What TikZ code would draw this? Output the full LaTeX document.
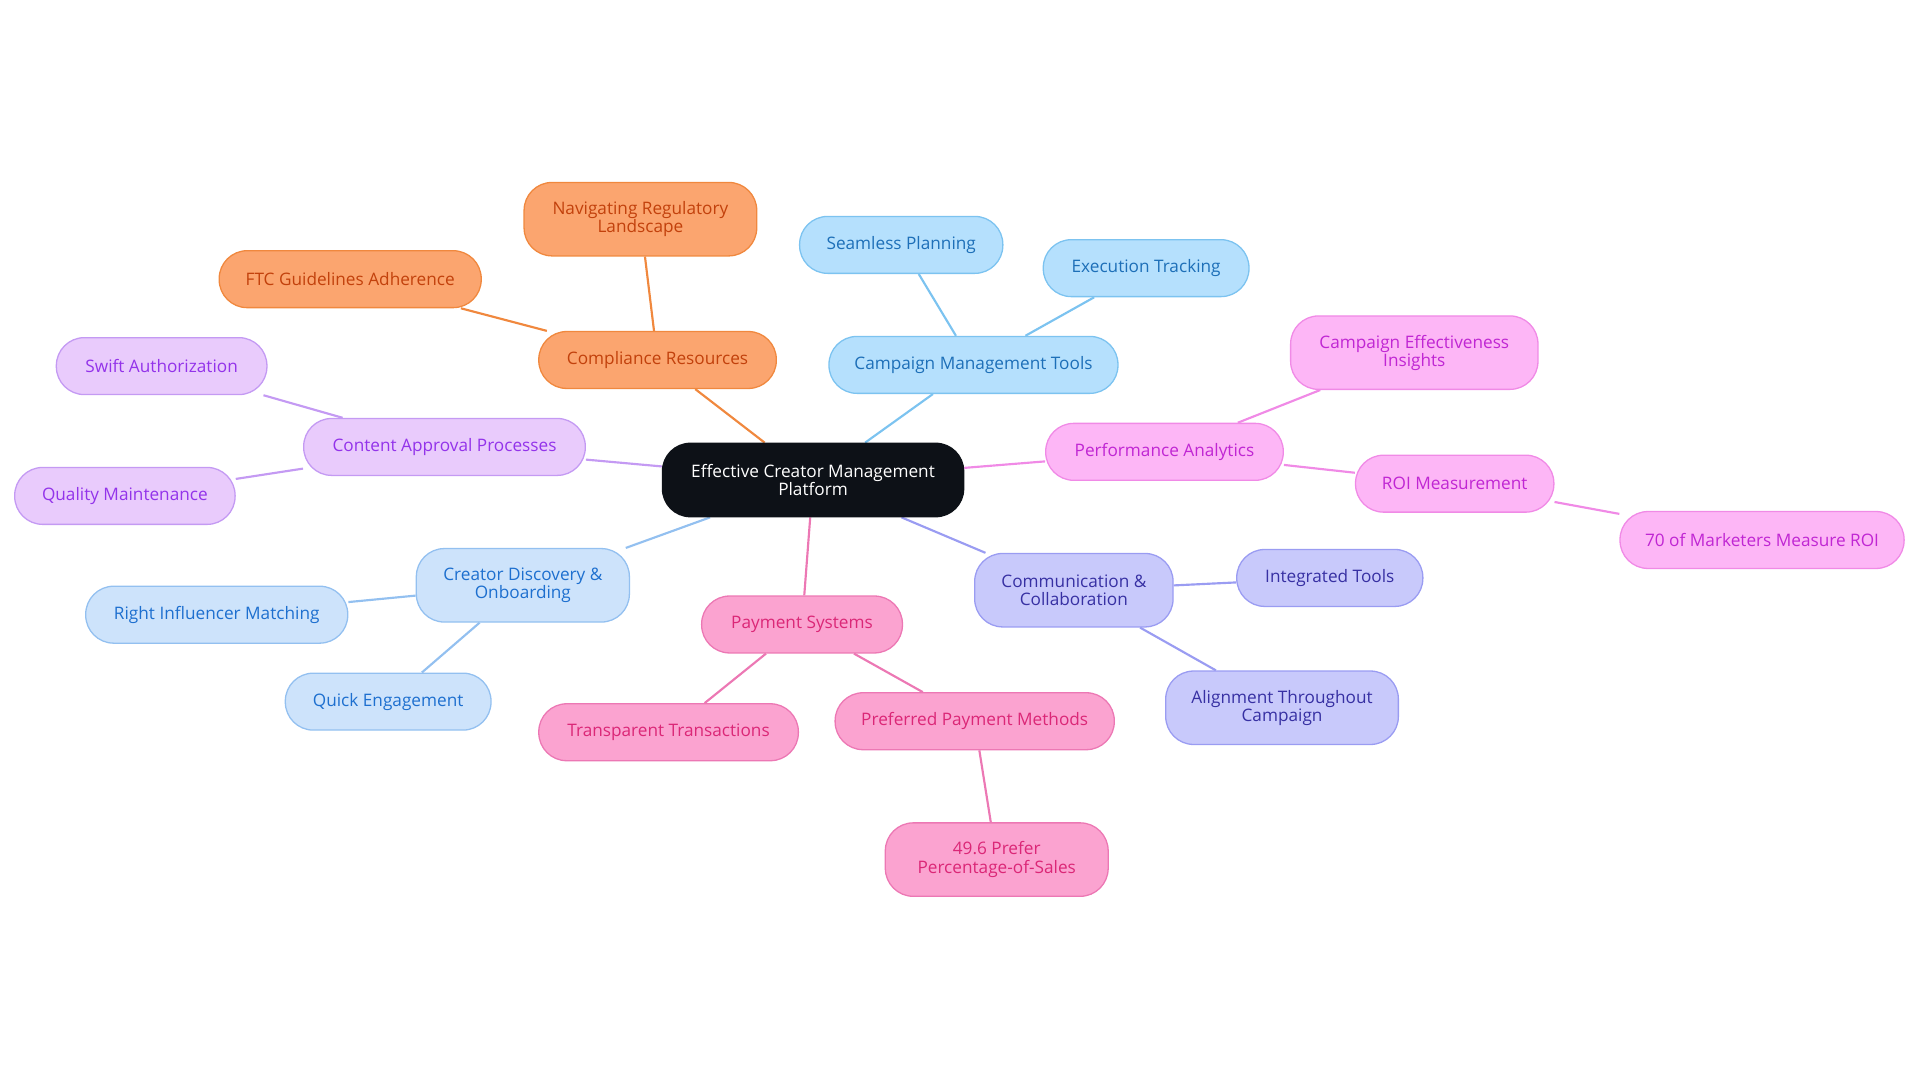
\documentclass[tikz,border=0pt]{standalone}
\usepackage{fontspec}
\setmainfont{Open Sans}
\usetikzlibrary{backgrounds}
\definecolor{orF}{HTML}{FBA56F}\definecolor{orD}{HTML}{F0883E}\definecolor{orT}{HTML}{C2410C}
\definecolor{blF}{HTML}{B5E0FD}\definecolor{blD}{HTML}{7CC3F0}\definecolor{blT}{HTML}{1D6FB8}
\definecolor{pkF}{HTML}{FDB6F6}\definecolor{pkD}{HTML}{F08AE6}\definecolor{pkT}{HTML}{C026D3}
\definecolor{lvF}{HTML}{C8C9FB}\definecolor{lvD}{HTML}{9A9CF2}\definecolor{lvT}{HTML}{3730A3}
\definecolor{roF}{HTML}{FBA3D0}\definecolor{roD}{HTML}{EC78B4}\definecolor{roT}{HTML}{DB2777}
\definecolor{cbF}{HTML}{CDE3FB}\definecolor{cbD}{HTML}{93C0F0}\definecolor{cbT}{HTML}{1D6FCF}
\definecolor{puF}{HTML}{E9CBFC}\definecolor{puD}{HTML}{C49AF3}\definecolor{puT}{HTML}{9333EA}
\definecolor{rootF}{HTML}{0D1117}
\begin{document}
\begin{tikzpicture}[x=0.02cm,y=-0.02cm,
 box/.style n args={4}{draw=#2,fill=#1,text=#3,rounded corners=13pt,line width=0.6pt,
   minimum width=#4*0.02cm,minimum height=0.93cm,align=center,font=\fontsize{8}{8.5}\selectfont,inner sep=2pt},
 tall/.style={minimum height=1.2cm},
 ob/.style={box={orF}{orD}{orT}{#1}}, bb/.style={box={blF}{blD}{blT}{#1}},
 pb/.style={box={pkF}{pkD}{pkT}{#1}}, lb/.style={box={lvF}{lvD}{lvT}{#1}},
 rb/.style={box={roF}{roD}{roT}{#1}}, cb/.style={box={cbF}{cbD}{cbT}{#1}},
 ub/.style={box={puF}{puD}{puT}{#1}},
 ln/.style={line width=1pt,draw=#1}]
\useasboundingbox (0,0) rectangle (1568,884);
\node[box={rootF}{rootF}{white}{246},tall] (root) at (664,392) {Effective Creator Management\\Platform};
\node[ob=194] (cr) at (537,294) {Compliance Resources};
\node[ob=190,tall] (nr) at (523,179) {Navigating Regulatory\\Landscape};
\node[ob=214] (ftc) at (286,228) {FTC Guidelines Adherence};
\node[bb=236] (cm) at (795,298) {Campaign Management Tools};
\node[bb=166] (sp) at (736,200) {Seamless Planning};
\node[bb=168] (et) at (936,219) {Execution Tracking};
\node[pb=194] (pa) at (951,369) {Performance Analytics};
\node[pb=202,tall] (cei) at (1155,288) {Campaign Effectiveness\\Insights};
\node[pb=162] (roi) at (1188,395) {ROI Measurement};
\node[pb=232] (mm) at (1439,441) {70 of Marketers Measure ROI};
\node[lb=162,tall] (cc) at (877,482) {Communication \&\\Collaboration};
\node[lb=152] (it) at (1086,472) {Integrated Tools};
\node[lb=190,tall] (al) at (1047,578) {Alignment Throughout\\Campaign};
\node[rb=164] (ps) at (655,510) {Payment Systems};
\node[rb=212] (tt) at (546,598) {Transparent Transactions};
\node[rb=228] (pp) at (796,589) {Preferred Payment Methods};
\node[rb=182,tall] (ps49) at (814,702) {49.6 Prefer\\Percentage-of-Sales};
\node[cb=174,tall] (cd) at (427,478) {Creator Discovery \&\\Onboarding};
\node[cb=214] (ri) at (177,502) {Right Influencer Matching};
\node[cb=168] (qe) at (317,573) {Quick Engagement};
\node[ub=230] (ca) at (363,365) {Content Approval Processes};
\node[ub=172] (sa) at (132,299) {Swift Authorization};
\node[ub=180] (qm) at (102,405) {Quality Maintenance};
\begin{pgfonlayer}{background}
\draw[ln=orD] (root)--(cr) (cr)--(nr) (cr)--(ftc);
\draw[ln=blD] (root)--(cm) (cm)--(sp) (cm)--(et);
\draw[ln=pkD] (root)--(pa) (pa)--(cei) (pa)--(roi) (roi)--(mm);
\draw[ln=lvD] (root)--(cc) (cc)--(it) (cc)--(al);
\draw[ln=roD] (root)--(ps) (ps)--(tt) (ps)--(pp) (pp)--(ps49);
\draw[ln=cbD] (root)--(cd) (cd)--(ri) (cd)--(qe);
\draw[ln=puD] (root)--(ca) (ca)--(sa) (ca)--(qm);
\end{pgfonlayer}
\end{tikzpicture}
\end{document}
